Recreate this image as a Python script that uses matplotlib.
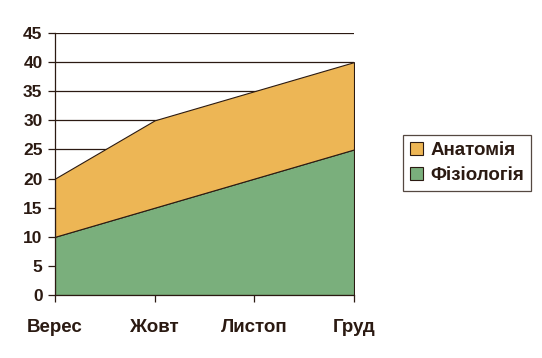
import matplotlib
matplotlib.use("Agg")
import matplotlib.pyplot as plt

categories = ["Верес", "Жовт", "Листоп", "Груд"]
fiziolohiia = [10, 15, 20, 25]
anatomiia = [10, 15, 15, 15]
yticks = [0, 5, 10, 15, 20, 25, 30, 35, 40, 45]

txt = "#2b1a12"
plt.rcParams['font.family'] = ['Liberation Sans', 'DejaVu Sans']
plt.rcParams['font.weight'] = 'bold'

fig = plt.figure(figsize=(5.42, 3.58), dpi=100)
ax = fig.add_axes([55/542, 1-295/358, (354-55)/542, (295-33)/358])

x = list(range(len(categories)))
ax.set_axisbelow(True)
ax.yaxis.grid(True, color=txt, linewidth=0.9, zorder=0)
ax.stackplot(x, fiziolohiia, anatomiia, colors=["#7aaf7c", "#edb655"],
             labels=["Фізіологія", "Анатомія"], edgecolor=txt, linewidth=0.8, zorder=2)

ax.set_xlim(0, 3)
ax.set_ylim(0, 45)
ax.set_yticks(yticks)
ax.set_xticks(x)
ax.set_xticklabels(categories)
for s in ["top", "right"]:
    ax.spines[s].set_visible(False)
for s in ["left", "bottom"]:
    ax.spines[s].set_color(txt)
    ax.spines[s].set_linewidth(0.9)
    ax.spines[s].set_zorder(3)
ax.tick_params(axis='y', colors=txt, labelsize=12.5, length=5, width=0.9, pad=4)
ax.tick_params(axis='x', colors=txt, labelsize=13.5, length=5, width=0.9, pad=12)
for lab in ax.get_xticklabels() + ax.get_yticklabels():
    lab.set_fontweight('heavy')

h, l = ax.get_legend_handles_labels()
leg = fig.legend(h[::-1], l[::-1], loc='upper left', bbox_to_anchor=(403/542, 1-135/358),
                 frameon=True, fancybox=False, edgecolor=txt, fontsize=13.5,
                 handlelength=0.7, handleheight=0.7, handletextpad=0.4,
                 borderpad=0.35, labelspacing=0.45, borderaxespad=0)
leg.get_frame().set_linewidth(0.9)
for t in leg.get_texts():
    t.set_color(txt)
    t.set_fontweight('heavy')
for p in leg.get_patches():
    p.set_edgecolor(txt)

fig.savefig("out.png", dpi=100)
